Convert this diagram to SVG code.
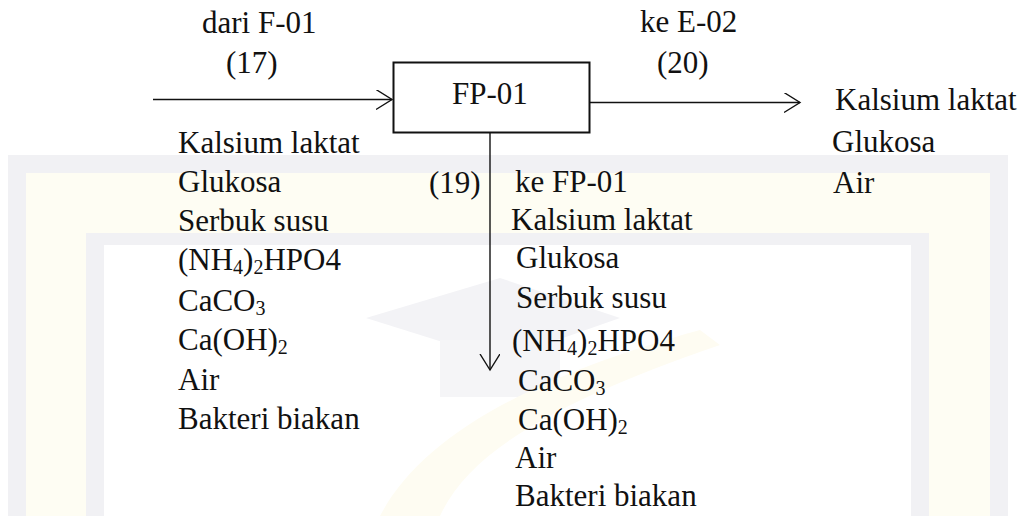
<svg xmlns="http://www.w3.org/2000/svg" width="1029" height="516" viewBox="0 0 1029 516">
  <style>
    text { font-family: "Liberation Serif", "Times New Roman", serif; font-size: 31px; fill: #111; }
    .sub { font-size: 20px; }
    .line { stroke: #111; stroke-width: 1.4; fill: none; }
    .box { stroke: #111; stroke-width: 2; fill: #fff; }
    .wm-gray { fill: #f1f1f4; }
    .wm-yellow { fill: #fefdf3; }
  </style>
  <defs>
    <marker id="openArrow" markerUnits="userSpaceOnUse" markerWidth="20" markerHeight="22" refX="16" refY="10" orient="auto">
      <path d="M0,0 L16,10 L0,20" fill="none" stroke="#111" stroke-width="1.4"/>
    </marker>
  </defs>

  <rect width="1029" height="516" fill="#fff"/>

  <!-- faint background emblem -->
  <g id="background-emblem">
    <path class="wm-gray" d="M8,155 H1008 V516 H8 Z"/>
    <path class="wm-yellow" d="M26,173 H990 V516 H26 Z"/>
    <path class="wm-gray" d="M86,233 H929 V516 H86 Z"/>
    <path fill="#ffffff" d="M104,245 H911 V516 H104 Z"/>
    <path fill="#f3f3f6" d="M366,318 L500,278 L620,318 L500,360 Z"/>
    <path fill="#f5f5f7" d="M440,340 L560,340 L560,397 L440,397 Z"/>
    <path fill="#fefcf2" d="M380,516 C420,440 520,380 700,330 L720,345 C560,400 470,450 440,516 Z"/>
  </g>

  <!-- connectors -->
  <g id="connectors">
    <line class="line" x1="153" y1="99.5" x2="392" y2="99.5" marker-end="url(#openArrow)"/>
    <line class="line" x1="590" y1="102.5" x2="800" y2="102.5" marker-end="url(#openArrow)"/>
    <line class="line" x1="490" y1="128" x2="490" y2="370" marker-end="url(#openArrow)"/>
  </g>

  <!-- filter press -->
  <g id="node-fp01">
    <rect class="box" x="393.5" y="62.5" width="196" height="70"/>
    <text x="452" y="104">FP-01</text>
  </g>

  <!-- feed stream 17 -->
  <g id="stream-17">
    <text x="202" y="33">dari F-01</text>
    <text x="226" y="73">(17)</text>
    <text x="178" y="153">Kalsium laktat</text>
    <text x="178" y="192">Glukosa</text>
    <text x="178" y="231">Serbuk susu</text>
    <text x="178" y="270">(NH<tspan class="sub" dy="4">4</tspan><tspan dy="-4">)</tspan><tspan class="sub" dy="4">2</tspan><tspan dy="-4">HPO4</tspan></text>
    <text x="178" y="311">CaCO<tspan class="sub" dy="4">3</tspan></text>
    <text x="178" y="350">Ca(OH)<tspan class="sub" dy="4">2</tspan></text>
    <text x="178" y="390">Air</text>
    <text x="178" y="429">Bakteri biakan</text>
  </g>

  <!-- filtrate stream 20 -->
  <g id="stream-20">
    <text x="640" y="32">ke E-02</text>
    <text x="657" y="73">(20)</text>
    <text x="835" y="110">Kalsium laktat</text>
    <text x="832" y="152">Glukosa</text>
    <text x="833" y="193">Air</text>
  </g>

  <!-- cake stream 19 -->
  <g id="stream-19">
    <text x="429" y="193">(19)</text>
    <text x="515" y="192">ke FP-01</text>
    <text x="511" y="230">Kalsium laktat</text>
    <text x="516" y="268">Glukosa</text>
    <text x="516" y="308">Serbuk susu</text>
    <text x="512" y="351">(NH<tspan class="sub" dy="4">4</tspan><tspan dy="-4">)</tspan><tspan class="sub" dy="4">2</tspan><tspan dy="-4">HPO4</tspan></text>
    <text x="518" y="391">CaCO<tspan class="sub" dy="4">3</tspan></text>
    <text x="518" y="430">Ca(OH)<tspan class="sub" dy="4">2</tspan></text>
    <text x="515" y="468">Air</text>
    <text x="515" y="506">Bakteri biakan</text>
  </g>
</svg>
